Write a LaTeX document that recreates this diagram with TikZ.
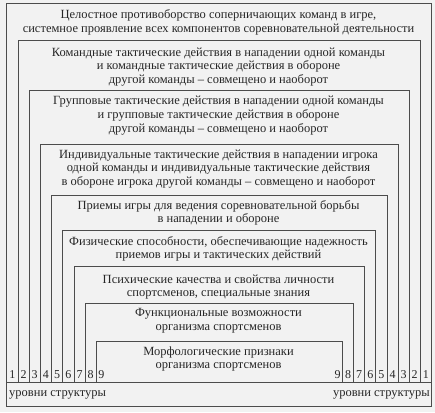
\documentclass[tikz,border=0pt]{standalone}
\usepackage{fontspec}
\setmainfont{Liberation Serif}

\def\yb{382}
\def\ys{406}
\def\ty{375}

\tikzset{
  level/.style={draw=black!70, line width=0.8pt},
  levtext/.style={align=center, text=black!85, font=\fontsize{12.5}{13.6}\selectfont, inner sep=0pt},
  levnum/.style={text=black!85, font=\fontsize{12}{12}\selectfont, inner sep=0pt}
}

\begin{document}
\begin{tikzpicture}[x=1pt,y=-1pt]
        \fill[black!5] (0,0) rectangle (435,412);
        \useasboundingbox (0,0) rectangle (435,412);
        % levels, open at the bottom
        \draw[level] (6.7,\yb)  |- (431.3,3)   -- (431.3,\yb);
        \draw[level] (17.9,\yb) |- (420.2,40.5) -- (420.2,\yb);
        \draw[level] (29.1,\yb) |- (409.1,90)  -- (409.1,\yb);
        \draw[level] (40.3,\yb) |- (398,144)   -- (398,\yb);
        \draw[level] (51.5,\yb) |- (386.9,195.5) -- (386.9,\yb);
        \draw[level] (62.7,\yb) |- (375.8,230) -- (375.8,\yb);
        \draw[level] (73.9,\yb) |- (364.7,266) -- (364.7,\yb);
        \draw[level] (85.1,\yb) |- (353.6,303) -- (353.6,\yb);
        \draw[level] (96.3,\yb) |- (342.5,341) -- (342.5,\yb);
        \draw[level] (6.7,\yb) rectangle (431.3,\ys);

        \node[levtext] (t1) at (218.5,22.5) {Целостное противоборство соперничающих команд в игре,\\системное проявление всех компонентов соревновательной деятельности};
        \node[levtext] (t2) at (218.5,67) {Командные тактические действия в нападении одной команды\\и командные тактические действия в обороне\\другой команды – совмещено и наоборот};
        \node[levtext] (t3) at (218.5,115.5) {Групповые тактические действия в нападении одной команды\\и групповые тактические действия в обороне\\другой команды – совмещено и наоборот};
        \node[levtext] (t4) at (218.5,169) {Индивидуальные тактические действия в нападении игрока\\одной команды и индивидуальные тактические действия\\в обороне игрока другой команды – совмещено и наоборот};
        \node[levtext] (t5) at (218.5,213) {Приемы игры для ведения соревновательной борьбы\\в нападении и обороне};
        \node[levtext] (t6) at (218.5,249) {Физические способности, обеспечивающие надежность\\приемов игры и тактических действий};
        \node[levtext] (t7) at (218.5,287) {Психические качества и свойства личности\\спортсменов, специальные знания};
        \node[levtext] (t8) at (218.5,320.5) {Функциональные возможности\\организма спортсменов};
        \node[levtext] (t9) at (218.5,359) {Морфологические признаки\\организма спортсменов};

        % level numbers
        \node[levnum] (l1) at (12.3,\ty) {1};
        \node[levnum] (l2) at (23.5,\ty) {2};
        \node[levnum] (l3) at (34.7,\ty) {3};
        \node[levnum] (l4) at (45.9,\ty) {4};
        \node[levnum] (l5) at (57.1,\ty) {5};
        \node[levnum] (l6) at (68.3,\ty) {6};
        \node[levnum] (l7) at (79.5,\ty) {7};
        \node[levnum] (l8) at (90.7,\ty) {8};
        \node[levnum] (l9) at (101.3,\ty) {9};
        \node[levnum] (r1) at (425.8,\ty) {1};
        \node[levnum] (r2) at (414.7,\ty) {2};
        \node[levnum] (r3) at (403.6,\ty) {3};
        \node[levnum] (r4) at (392.5,\ty) {4};
        \node[levnum] (r5) at (381.4,\ty) {5};
        \node[levnum] (r6) at (370.3,\ty) {6};
        \node[levnum] (r7) at (359.2,\ty) {7};
        \node[levnum] (r8) at (348.1,\ty) {8};
        \node[levnum] (r9) at (337.5,\ty) {9};

        \node[levtext, anchor=west] (s1) at (9,394.5) {уровни структуры};
        \node[levtext, anchor=east] (s2) at (430,394.5) {уровни структуры};
    \end{tikzpicture}
\end{document}
